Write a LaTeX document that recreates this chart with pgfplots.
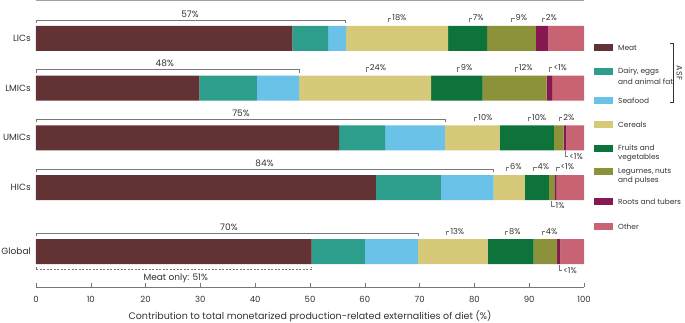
\documentclass[border=0pt]{standalone}
\usepackage{fontspec}
\setmainfont{Poppins}
\usepackage{pgfplots}
\pgfplotsset{compat=1.18}
\definecolor{cMeat}{RGB}{98,50,52}
\definecolor{cDairy}{RGB}{44,158,139}
\definecolor{cSea}{RGB}{106,194,232}
\definecolor{cCer}{RGB}{214,201,122}
\definecolor{cFru}{RGB}{14,115,58}
\definecolor{cLeg}{RGB}{139,146,57}
\definecolor{cRoot}{RGB}{134,24,82}
\definecolor{cOth}{RGB}{200,99,115}
\definecolor{txt}{RGB}{50,50,50}
\definecolor{ln}{RGB}{120,120,120}
\newcommand{\asf}[4]{% end, y, center, label
 \draw[ln, line width=0.5pt] ([yshift=15.5pt]axis cs:0,#2) -- ([yshift=18.5pt]axis cs:0,#2) -- ([yshift=18.5pt]axis cs:#1,#2) -- ([yshift=15.5pt]axis cs:#1,#2);
 \node[font=\fontsize{9}{11}\selectfont, text=txt, inner sep=0pt] at ([yshift=24.3pt]axis cs:#3,#2) {#4};
}
\newcommand{\uplab}[3]{%
 \draw[ln, line width=0.5pt] ([yshift=16.5pt]axis cs:#1,#2) -- ([yshift=20.5pt]axis cs:#1,#2) -- ([yshift=20.5pt,xshift=3pt]axis cs:#1,#2) node[right, inner sep=0.8pt, font=\fontsize{8.2}{10}\selectfont, text=txt] {#3};
}
\newcommand{\dnlab}[3]{%
 \draw[ln, line width=0.5pt] ([yshift=-13.5pt]axis cs:#1,#2) -- ([yshift=-18.5pt]axis cs:#1,#2) -- ([yshift=-18.5pt,xshift=3pt]axis cs:#1,#2) node[right, inner sep=0.8pt, font=\fontsize{8.2}{10}\selectfont, text=txt] {#3};
}
\begin{document}
\begin{tikzpicture}
\useasboundingbox (-36pt,-35.3pt) rectangle (649pt,287.5pt);
\begin{axis}[
 at={(0,0)}, anchor=south west,
 scale only axis, width=548pt, height=286.7pt,
 xmin=0, xmax=100, ymin=-5.01, ymax=0.754,
 xbar stacked, bar width=25pt,
 axis x line=bottom, axis y line=left,
 x axis line style={-, ln, line width=0.5pt},
 y axis line style={draw=none},
 xtick={0,10,...,100},
 tick align=inside,
 major tick length=4pt,
 xtick style={ln, line width=0.5pt},
 ytick style={draw=none},
 ytick={0,-1,-2,-3,-4.29},
 yticklabels={LICs,LMICs,UMICs,HICs,Global},
 yticklabel style={font=\fontsize{9}{11}\selectfont, text=txt, anchor=east, inner sep=0pt, xshift=-5pt},
 xticklabel style={font=\fontsize{8.5}{10}\selectfont, text=txt, anchor=center, yshift=-12pt},
 /pgf/number format/assume math mode=true,
 xlabel={Contribution to total monetarized production-related externalities of diet (\%)},
 every axis x label/.style={at={(axis description cs:0.5,0)}, anchor=center, yshift=-29pt, font=\fontsize{9.5}{11}\selectfont, text=txt},
 clip=false,
]
\addplot[fill=cMeat, draw=none] coordinates {(46.8,0) (29.8,-1) (55.3,-2) (62.0,-3) (50.3,-4.29)};
\addplot[fill=cDairy, draw=none] coordinates {(6.5,0) (10.5,-1) (8.4,-2) (11.9,-3) (9.7,-4.29)};
\addplot[fill=cSea, draw=none] coordinates {(3.3,0) (7.7,-1) (10.9,-2) (9.6,-3) (9.7,-4.29)};
\addplot[fill=cCer, draw=none] coordinates {(18.6,0) (24.1,-1) (10.0,-2) (5.7,-3) (12.7,-4.29)};
\addplot[fill=cFru, draw=none] coordinates {(7.1,0) (9.4,-1) (9.9,-2) (4.4,-3) (8.4,-4.29)};
\addplot[fill=cLeg, draw=none] coordinates {(8.9,0) (11.7,-1) (1.8,-2) (1.1,-3) (4.3,-4.29)};
\addplot[fill=cRoot, draw=none] coordinates {(2.3,0) (1.0,-1) (0.5,-2) (0.3,-3) (0.6,-4.29)};
\addplot[fill=cOth, draw=none] coordinates {(6.5,0) (5.8,-1) (3.2,-2) (5.0,-3) (4.3,-4.29)};
% top line
\draw[ln!70, line width=0.6pt] (axis cs:0,0.754) -- (axis cs:100,0.754);
% ASF brackets
\asf{56.4}{0}{28.1}{57\%}
\asf{48.0}{-1}{23.5}{48\%}
\asf{74.6}{-2}{37.4}{75\%}
\asf{83.5}{-3}{41.7}{84\%}
\asf{69.7}{-4.29}{35.2}{70\%}
% LICs
\uplab{64.3}{0}{18\%}
\uplab{79.0}{0}{7\%}
\uplab{86.8}{0}{9\%}
\uplab{92.3}{0}{2\%}
% LMICs
\uplab{60.2}{-1}{24\%}
\uplab{76.8}{-1}{9\%}
\uplab{87.4}{-1}{12\%}
\uplab{93.7}{-1}{<1\%}
% UMICs
\uplab{80.0}{-2}{10\%}
\uplab{89.8}{-2}{10\%}
\uplab{95.5}{-2}{2\%}
\dnlab{96.6}{-2}{<1\%}
% HICs
\uplab{85.8}{-3}{6\%}
\uplab{90.8}{-3}{4\%}
\uplab{95.0}{-3}{<1\%}
\dnlab{94.1}{-3}{1\%}
% Global
\uplab{74.9}{-4.29}{13\%}
\uplab{85.6}{-4.29}{8\%}
\uplab{92.3}{-4.29}{4\%}
\dnlab{95.5}{-4.29}{<1\%}
% meat only
\draw[ln, line width=0.5pt, dash pattern=on 2pt off 1.5pt] ([yshift=-15pt]axis cs:0,-4.29) -- ([yshift=-18pt]axis cs:0,-4.29) -- ([yshift=-18pt]axis cs:50.3,-4.29) -- ([yshift=-15pt]axis cs:50.3,-4.29);
\node[font=\fontsize{9}{11}\selectfont, text=txt, inner sep=0pt] at ([yshift=-27pt]axis cs:25.5,-4.29) {Meat only: 51\%};
\end{axis}
% legend
\begin{scope}[every node/.style={font=\fontsize{7.4}{9}\selectfont, text=txt, anchor=west, inner sep=0pt}]
\fill[cMeat] (558pt,236.5pt) rectangle (577pt,243.5pt); \node at (582pt,240pt) {Meat};
\fill[cDairy] (558pt,212.2pt) rectangle (577pt,219.2pt); \node at (582pt,215.7pt) {Dairy, eggs}; \node at (582pt,206pt) {and animal fat};
\fill[cSea] (558pt,183.2pt) rectangle (577pt,190.2pt); \node at (582pt,186.7pt) {Seafood};
\fill[cCer] (558pt,159.2pt) rectangle (577pt,166.2pt); \node at (582pt,162.7pt) {Cereals};
\fill[cFru] (558pt,135.9pt) rectangle (577pt,142.9pt); \node at (582pt,139.4pt) {Fruits and}; \node at (582pt,130pt) {vegetables};
\fill[cLeg] (558pt,112.5pt) rectangle (577pt,119.5pt); \node at (582pt,116pt) {Legumes, nuts}; \node at (582pt,106.7pt) {and pulses};
\fill[cRoot] (558pt,82.5pt) rectangle (577pt,89.5pt); \node at (582pt,86pt) {Roots and tubers};
\fill[cOth] (558pt,57.2pt) rectangle (577pt,64.2pt); \node at (582pt,60.7pt) {Other};
\draw[txt, line width=0.5pt] (634pt,244pt) -- (637pt,244pt) -- (637pt,185pt) -- (634pt,185pt);
\node[rotate=-90, anchor=center, font=\fontsize{8}{10}\selectfont] at (643.5pt,214.5pt) {ASF};
\end{scope}
\end{tikzpicture}
\end{document}
